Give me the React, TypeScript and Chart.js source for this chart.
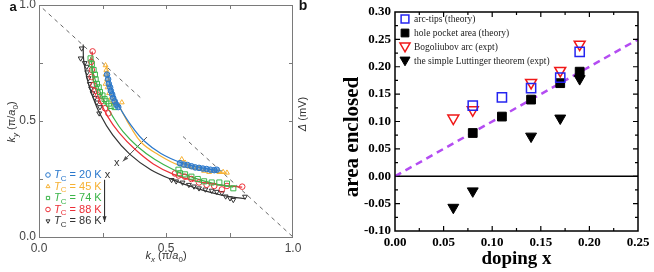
import React, { useEffect, useRef } from "react";
import { Chart, registerables } from "chart.js";
Chart.register(...registerables);

// ---------------- Panel a data (kx, ky in units of pi/a0) ----------------
const tc20Pts: [number, number][] = [
  [0.268, 0.70], [0.272, 0.68], [0.275, 0.66], [0.28, 0.645], [0.283, 0.63], [0.288, 0.615],
  [0.292, 0.60], [0.298, 0.585], [0.305, 0.57], [0.312, 0.56],
  [0.555, 0.318], [0.57, 0.312], [0.585, 0.31], [0.60, 0.305], [0.615, 0.30], [0.63, 0.298],
  [0.645, 0.295], [0.66, 0.293], [0.675, 0.29], [0.69, 0.288], [0.70, 0.29],
];
const tc45Pts: [number, number][] = [
  [0.262, 0.74], [0.265, 0.72], [0.262, 0.70], [0.268, 0.68], [0.262, 0.66], [0.27, 0.645],
  [0.276, 0.62], [0.285, 0.60], [0.292, 0.585], [0.30, 0.575], [0.326, 0.58],
  [0.562, 0.335], [0.575, 0.32], [0.59, 0.305], [0.61, 0.30], [0.63, 0.295], [0.65, 0.285],
  [0.67, 0.28], [0.69, 0.285], [0.71, 0.28], [0.725, 0.28], [0.74, 0.277],
];
const tc74Pts: [number, number][] = [
  [0.203, 0.77], [0.208, 0.745], [0.215, 0.72], [0.22, 0.70], [0.223, 0.68], [0.228, 0.66],
  [0.235, 0.645], [0.24, 0.625], [0.25, 0.61], [0.258, 0.595], [0.265, 0.585], [0.275, 0.575],
  [0.285, 0.565], [0.298, 0.56],
  [0.549, 0.29], [0.555, 0.275], [0.575, 0.27], [0.60, 0.26], [0.625, 0.25], [0.65, 0.24],
  [0.68, 0.235], [0.71, 0.235], [0.74, 0.23], [0.765, 0.21],
];
const tc88Pts: [number, number][] = [
  [0.211, 0.80], [0.206, 0.755], [0.208, 0.72], [0.207, 0.69], [0.214, 0.655], [0.222, 0.63],
  [0.232, 0.61], [0.245, 0.585], [0.26, 0.555], [0.273, 0.533],
  [0.535, 0.274], [0.55, 0.265], [0.575, 0.26], [0.60, 0.25], [0.63, 0.235], [0.66, 0.225],
  [0.69, 0.22], [0.72, 0.205], [0.74, 0.22], [0.80, 0.217],
];
const tc86Pts: [number, number][] = [
  [0.168, 0.813], [0.164, 0.77], [0.18, 0.75], [0.188, 0.734], [0.19, 0.71], [0.195, 0.685],
  [0.20, 0.66], [0.205, 0.64], [0.211, 0.62], [0.22, 0.60], [0.228, 0.58], [0.24, 0.56],
  [0.237, 0.533],
  [0.522, 0.246], [0.54, 0.24], [0.565, 0.235], [0.59, 0.225], [0.61, 0.218], [0.63, 0.21],
  [0.655, 0.205], [0.68, 0.20], [0.70, 0.195], [0.72, 0.19], [0.735, 0.175], [0.752, 0.167],
  [0.765, 0.16], [0.811, 0.174],
];

const tc20Fit: [number, number][] = [
  [0.27, 0.70], [0.285, 0.64], [0.305, 0.585], [0.33, 0.535], [0.37, 0.47], [0.414, 0.414],
  [0.48, 0.36], [0.56, 0.32], [0.63, 0.30], [0.70, 0.288], [0.72, 0.285],
];
const tc45Fit: [number, number][] = [
  [0.265, 0.74], [0.28, 0.66], [0.30, 0.60], [0.325, 0.545], [0.36, 0.475], [0.405, 0.405],
  [0.47, 0.355], [0.55, 0.31], [0.63, 0.29], [0.69, 0.28], [0.74, 0.275],
];
const tc74Fit: [number, number][] = [
  [0.203, 0.775], [0.215, 0.70], [0.235, 0.64], [0.26, 0.58], [0.29, 0.52], [0.33, 0.455],
  [0.389, 0.389], [0.455, 0.335], [0.53, 0.29], [0.61, 0.255], [0.69, 0.23], [0.765, 0.215],
];
const tc88Fit: [number, number][] = [
  [0.21, 0.80], [0.208, 0.74], [0.215, 0.67], [0.235, 0.60], [0.27, 0.52], [0.315, 0.45],
  [0.378, 0.378], [0.45, 0.315], [0.53, 0.27], [0.62, 0.24], [0.71, 0.225], [0.80, 0.215],
];
const tc86Fit: [number, number][] = [
  [0.174, 0.83], [0.176, 0.76], [0.19, 0.68], [0.21, 0.61], [0.24, 0.53], [0.29, 0.44],
  [0.357, 0.357], [0.44, 0.29], [0.53, 0.245], [0.62, 0.21], [0.72, 0.18], [0.81, 0.165],
];

const zoneLineUpper: [number, number][] = [[0.015, 0.985], [0.4, 0.6]];
const zoneLineLower: [number, number][] = [[0.567, 0.433], [1.0, 0.0]];
const dopingArrow: [number, number][] = [[0.425, 0.431], [0.33, 0.326]];
const legendArrow: [number, number][] = [[0.258, 0.246], [0.258, 0.065]];

const tcLabels = ["20 K", "45 K", "74 K", "88 K", "86 K"];
const tcColors = ["#2a78cc", "#f6b133", "#3cb54a", "#ec3038", "#333333"];
const tcFills = ["rgba(42,120,204,0.55)", "rgba(255,255,255,0)", "rgba(255,255,255,0)", "rgba(255,255,255,0)", "rgba(255,255,255,0)"];
const tcStyles = ["circle", "triangle", "rect", "circle", "triangleDown"];

// ---------------- Panel b data ----------------
const dopingTheory = [0.08, 0.11, 0.14, 0.17, 0.19];
const arcTips = [0.129, 0.144, 0.161, 0.180, 0.227];
const holePocket = [0.079, 0.109, 0.140, 0.170, 0.191];
const dopingExpt = [0.06, 0.08, 0.14, 0.17, 0.19];
const bogoliubovArc = [0.106, 0.121, 0.171, 0.193, 0.241];
const luttinger = [-0.057, -0.027, 0.073, 0.106, 0.178];
const guideLine: [number, number][] = [[0, 0], [0.25, 0.25]];
const zeroLine: [number, number][] = [[0, 0], [0.25, 0]];
const bLegend = [
  "arc-tips (theory)",
  "hole pocket area (theory)",
  "Bogoliubov arc (expt)",
  "the simple Luttinger theorem (expt)",
];

const SANS = "'Liberation Sans', Arial, sans-serif";
const SERIF = "'Liberation Serif', 'Times New Roman', serif";

type Part = { t: string; it?: boolean; sub?: boolean; bold?: boolean };

function drawParts(
  ctx: CanvasRenderingContext2D, parts: Part[], x: number, y: number,
  size: number, family: string, color: string, align: "left" | "center"
) {
  const fontFor = (p: Part) =>
    `${p.it ? "italic " : ""}${p.bold ? "bold " : ""}${p.sub ? Math.round(size * 0.72) : size}px ${family}`;
  let total = 0;
  for (const p of parts) { ctx.font = fontFor(p); total += ctx.measureText(p.t).width; }
  let cx = align === "center" ? x - total / 2 : x;
  ctx.fillStyle = color;
  ctx.textAlign = "left";
  ctx.textBaseline = "middle";
  for (const p of parts) {
    ctx.font = fontFor(p);
    ctx.fillText(p.t, cx, y + (p.sub ? size * 0.3 : 0));
    cx += ctx.measureText(p.t).width;
  }
}

function marker(ctx: CanvasRenderingContext2D, style: string, x: number, y: number, r: number,
  stroke: string, fill: string | null, lw: number) {
  ctx.beginPath();
  if (style === "circle") ctx.arc(x, y, r, 0, Math.PI * 2);
  else if (style === "rect") { const s = r * Math.SQRT1_2; ctx.rect(x - s, y - s, 2 * s, 2 * s); }
  else {
    const down = style === "triangleDown";
    const sgn = down ? -1 : 1;
    ctx.moveTo(x, y - sgn * r);
    ctx.lineTo(x + r * 0.866, y + sgn * r * 0.5);
    ctx.lineTo(x - r * 0.866, y + sgn * r * 0.5);
    ctx.closePath();
  }
  if (fill) { ctx.fillStyle = fill; ctx.fill(); }
  ctx.lineWidth = lw; ctx.strokeStyle = stroke; ctx.stroke();
}

function arrowHead(ctx: CanvasRenderingContext2D, x1: number, y1: number, x2: number, y2: number, len: number, color: string) {
  const a = Math.atan2(y2 - y1, x2 - x1);
  ctx.beginPath();
  ctx.moveTo(x2, y2);
  ctx.lineTo(x2 - len * Math.cos(a - 0.35), y2 - len * Math.sin(a - 0.35));
  ctx.lineTo(x2 - len * Math.cos(a + 0.35), y2 - len * Math.sin(a + 0.35));
  ctx.closePath();
  ctx.fillStyle = color; ctx.fill();
}

const toXY = (arr: [number, number][]) => arr.map(([x, y]) => ({ x, y }));

const panelAPlugin = {
  id: "panelA",
  afterDraw(chart: any) {
    const { ctx, chartArea: ca } = chart;
    const sx = chart.scales.x, sy = chart.scales.y;
    ctx.save();
    ctx.strokeStyle = "#7a7a7a"; ctx.lineWidth = 1;
    ctx.strokeRect(ca.left + 0.5, ca.top + 0.5, ca.right - ca.left - 1, ca.bottom - ca.top);
    ctx.beginPath();
    for (const v of [0.25, 0.5, 0.75]) {
      const px = Math.round(sx.getPixelForValue(v)) + 0.5;
      ctx.moveTo(px, ca.bottom); ctx.lineTo(px, ca.bottom - 4);
      ctx.moveTo(px, ca.top); ctx.lineTo(px, ca.top + 4);
      const py = Math.round(sy.getPixelForValue(v)) + 0.5;
      ctx.moveTo(ca.left, py); ctx.lineTo(ca.left + 4, py);
      ctx.moveTo(ca.right, py); ctx.lineTo(ca.right - 4, py);
    }
    ctx.stroke();

    const ax1 = sx.getPixelForValue(dopingArrow[0][0]), ay1 = sy.getPixelForValue(dopingArrow[0][1]);
    const ax2 = sx.getPixelForValue(dopingArrow[1][0]), ay2 = sy.getPixelForValue(dopingArrow[1][1]);
    arrowHead(ctx, ax1, ay1, ax2, ay2, 6, "#555");
    ctx.font = `11px ${SANS}`; ctx.fillStyle = "#333"; ctx.textAlign = "center"; ctx.textBaseline = "middle";
    ctx.fillText("x", ax2 - 6, ay2 + 2);

    const bx1 = sx.getPixelForValue(legendArrow[0][0]), by1 = sy.getPixelForValue(legendArrow[0][1]);
    const bx2 = sx.getPixelForValue(legendArrow[1][0]), by2 = sy.getPixelForValue(legendArrow[1][1]);
    arrowHead(ctx, bx1, by1, bx2, by2, 6, "#333");
    ctx.fillStyle = "#333";
    ctx.fillText("x", bx1 + 3, by1 - 5);

    const lx = ca.left + 9, ly0 = ca.top + 170;
    for (let i = 0; i < tcLabels.length; i++) {
      const yy = ly0 + i * 11.5;
      marker(ctx, tcStyles[i], lx, yy, 2.3, tcColors[i], null, 1);
      drawParts(ctx, [{ t: "T", it: true }, { t: "C", sub: true }, { t: " = " + tcLabels[i] }],
        lx + 6, yy, 11, SANS, tcColors[i], "left");
    }

    drawParts(ctx, [{ t: "k", it: true }, { t: "x", sub: true, it: true }, { t: " (π/" }, { t: "a", it: true }, { t: "0", sub: true }, { t: ")" }],
      (ca.left + ca.right) / 2, 256, 11, SANS, "#333", "center");
    ctx.save();
    ctx.translate(12, 122); ctx.rotate(-Math.PI / 2);
    drawParts(ctx, [{ t: "k", it: true }, { t: "y", sub: true, it: true }, { t: " (π/" }, { t: "a", it: true }, { t: "0", sub: true }, { t: ")" }],
      0, 0, 11, SANS, "#333", "center");
    ctx.restore();
    ctx.save();
    ctx.translate(ca.right + 10, 114); ctx.rotate(-Math.PI / 2);
    drawParts(ctx, [{ t: "Δ", it: true }, { t: " (mV)" }], 0, 0, 11, SANS, "#333", "center");
    ctx.restore();

    ctx.font = `bold 13px ${SANS}`; ctx.fillStyle = "#111"; ctx.textAlign = "center"; ctx.textBaseline = "middle";
    ctx.fillText("a", 13, 7);
    ctx.font = `bold 14px ${SANS}`;
    ctx.fillText("b", ca.right + 10, 6);
    ctx.restore();
  },
};

const panelBPlugin = {
  id: "panelB",
  afterDraw(chart: any) {
    const { ctx, chartArea: ca } = chart;
    const sx = chart.scales.x, sy = chart.scales.y;
    ctx.save();
    ctx.strokeStyle = "#000"; ctx.lineWidth = 1.5;
    ctx.strokeRect(ca.left, ca.top, ca.right - ca.left, ca.bottom - ca.top);
    ctx.lineWidth = 1.2;
    ctx.beginPath();
    for (let i = 1; i < 10; i++) {
      const v = i * 0.025;
      const len = i % 2 === 0 ? 5 : 3;
      const px = sx.getPixelForValue(v);
      ctx.moveTo(px, ca.bottom); ctx.lineTo(px, ca.bottom - len);
      ctx.moveTo(px, ca.top); ctx.lineTo(px, ca.top + len);
    }
    for (let i = 1; i < 16; i++) {
      const v = -0.1 + i * 0.025;
      const len = i % 2 === 0 ? 5 : 3;
      const py = sy.getPixelForValue(v);
      ctx.moveTo(ca.left, py); ctx.lineTo(ca.left + len, py);
      ctx.moveTo(ca.right, py); ctx.lineTo(ca.right - len, py);
    }
    ctx.stroke();

    const mx = ca.left + 10, tx = ca.left + 19;
    const rows = [ca.top + 7, ca.top + 21, ca.top + 35, ca.top + 49];
    marker(ctx, "rect", mx, rows[0], 5.5, "#2424f0", "#fff", 1.5);
    marker(ctx, "rect", mx, rows[1], 5.5, "#000", "#000", 1);
    marker(ctx, "triangleDown", mx, rows[2] - 1, 5.8, "#f01818", "#fff", 1.5);
    marker(ctx, "triangleDown", mx, rows[3] - 1, 5.8, "#000", "#000", 1);
    ctx.font = `9.5px ${SERIF}`; ctx.fillStyle = "#222"; ctx.textAlign = "left"; ctx.textBaseline = "middle";
    for (let i = 0; i < bLegend.length; i++) ctx.fillText(bLegend[i], tx, rows[i]);

    ctx.font = `bold 19px ${SERIF}`; ctx.fillStyle = "#000"; ctx.textAlign = "center"; ctx.textBaseline = "middle";
    ctx.fillText("doping x", (ca.left + ca.right) / 2, 259);
    ctx.save();
    ctx.translate(33, 137); ctx.rotate(-Math.PI / 2);
    ctx.font = `bold 21px ${SERIF}`;
    ctx.fillText("area enclosed", 0, 0);
    ctx.restore();
    ctx.restore();
  },
};

function makeA(canvas: HTMLCanvasElement) {
  const ptsSets = [tc20Pts, tc45Pts, tc74Pts, tc88Pts, tc86Pts];
  const fitSets = [tc20Fit, tc45Fit, tc74Fit, tc88Fit, tc86Fit];
  const pointDs = ptsSets.map((p, i) => ({
    label: tcLabels[i],
    data: toXY(p),
    showLine: false,
    pointStyle: tcStyles[i] === "triangleDown" ? "triangle" : tcStyles[i],
    pointRotation: tcStyles[i] === "triangleDown" ? 180 : 0,
    pointRadius: tcStyles[i] === "rect" ? 3.6 : 2.8,
    pointBorderWidth: 1,
    pointBorderColor: tcColors[i],
    pointBackgroundColor: tcFills[i],
  }));
  const fitDs = fitSets.map((p, i) => ({
    label: tcLabels[i] + " fit",
    data: toXY(p),
    showLine: true,
    pointRadius: 0,
    borderColor: tcColors[i],
    borderWidth: 1.2,
    tension: 0.4,
    fill: false,
  }));
  const extra = [
    { data: toXY(zoneLineUpper), showLine: true, pointRadius: 0, borderColor: "#666", borderWidth: 1, borderDash: [4, 4] },
    { data: toXY(zoneLineLower), showLine: true, pointRadius: 0, borderColor: "#666", borderWidth: 1, borderDash: [4, 4] },
    { data: toXY(dopingArrow), showLine: true, pointRadius: 0, borderColor: "#555", borderWidth: 1 },
    { data: toXY(legendArrow), showLine: true, pointRadius: 0, borderColor: "#333", borderWidth: 1 },
  ];
  return new Chart(canvas, {
    type: "scatter",
    data: { datasets: [...pointDs, ...fitDs, ...extra] as any },
    options: {
      responsive: false,
      animation: false,
      devicePixelRatio: 1,
      layout: { padding: { left: 0, right: 27, top: 5, bottom: 0 } },
      plugins: { legend: { display: false }, tooltip: { enabled: false } },
      scales: {
        x: {
          type: "linear", min: 0, max: 1,
          ticks: { stepSize: 0.5, autoSkip: false, maxRotation: 0, padding: 4, color: "#444",
            font: { family: SANS, size: 12 }, callback: (v: any) => Number(v).toFixed(1) },
          grid: { display: false, drawTicks: false },
          border: { display: false },
          afterFit: (s: any) => { s.height = 35; s.paddingLeft = 0; s.paddingRight = 0; },
        },
        y: {
          type: "linear", min: 0, max: 1,
          ticks: { stepSize: 0.5, autoSkip: false, padding: 3, color: "#444",
            font: { family: SANS, size: 12 }, callback: (v: any) => Number(v).toFixed(1) },
          grid: { display: false, drawTicks: false },
          border: { display: false },
          afterFit: (s: any) => { s.width = 39; s.paddingTop = 0; s.paddingBottom = 0; },
        },
      },
    } as any,
    plugins: [panelAPlugin],
  });
}

function makeB(canvas: HTMLCanvasElement) {
  const pair = (xs: number[], ys: number[]) => xs.map((x, i) => ({ x, y: ys[i] }));
  const datasets = [
    { label: bLegend[0], data: pair(dopingTheory, arcTips), pointStyle: "rect", pointRadius: 6.5,
      pointBorderWidth: 1.5, pointBorderColor: "#2424f0", pointBackgroundColor: "rgba(255,255,255,0)", showLine: false },
    { label: bLegend[2], data: pair(dopingExpt, bogoliubovArc), pointStyle: "triangle", pointRotation: 180, pointRadius: 6.3,
      pointBorderWidth: 1.5, pointBorderColor: "#f01818", pointBackgroundColor: "rgba(255,255,255,0)", showLine: false },
    { label: bLegend[1], data: pair(dopingTheory, holePocket), pointStyle: "rect", pointRadius: 6.2,
      pointBorderWidth: 1, pointBorderColor: "#000", pointBackgroundColor: "#000", showLine: false },
    { label: bLegend[3], data: pair(dopingExpt, luttinger), pointStyle: "triangle", pointRotation: 180, pointRadius: 6.3,
      pointBorderWidth: 1, pointBorderColor: "#000", pointBackgroundColor: "#000", showLine: false },
    { label: "x", data: toXY(guideLine), showLine: true, pointRadius: 0, borderColor: "#b44cf2",
      borderWidth: 2.5, borderDash: [7, 5] },
    { label: "zero", data: toXY(zeroLine), showLine: true, pointRadius: 0, borderColor: "#000", borderWidth: 1.5 },
  ];
  return new Chart(canvas, {
    type: "scatter",
    data: { datasets: datasets as any },
    options: {
      responsive: false,
      animation: false,
      devicePixelRatio: 1,
      layout: { padding: { left: 0, right: 16, top: 12, bottom: 0 } },
      plugins: { legend: { display: false }, tooltip: { enabled: false } },
      scales: {
        x: {
          type: "linear", min: 0, max: 0.25,
          ticks: { stepSize: 0.05, autoSkip: false, maxRotation: 0, padding: 4, color: "#000",
            font: { family: SERIF, size: 13, weight: "bold" },
            callback: (v: any) => (Math.abs(Number(v)) < 1e-9 ? "0.00" : Number(v).toFixed(2)) },
          grid: { display: false, drawTicks: false },
          border: { display: false },
          afterFit: (s: any) => { s.height = 41; s.paddingLeft = 0; s.paddingRight = 0; },
        },
        y: {
          type: "linear", min: -0.1, max: 0.3,
          ticks: { stepSize: 0.05, autoSkip: false, padding: 4, color: "#000",
            font: { family: SERIF, size: 13, weight: "bold" },
            callback: (v: any) => (Math.abs(Number(v)) < 1e-9 ? "0.00" : Number(v).toFixed(2)) },
          grid: { display: false, drawTicks: false },
          border: { display: false },
          afterFit: (s: any) => { s.width = 75; s.paddingTop = 0; s.paddingBottom = 0; },
        },
      },
    } as any,
    plugins: [panelBPlugin],
  });
}

export default function App() {
  const refA = useRef<HTMLCanvasElement>(null);
  const refB = useRef<HTMLCanvasElement>(null);
  useEffect(() => {
    const a = makeA(refA.current!);
    const b = makeB(refB.current!);
    return () => { a.destroy(); b.destroy(); };
  }, []);
  return (
    <div style={{ position: "absolute", left: 0, top: 0, width: 654, height: 272, background: "#fff" }}>
      <canvas ref={refA} width={320} height={272}
        style={{ position: "absolute", left: 0, top: 0, width: 320, height: 272 }} />
      <canvas ref={refB} width={334} height={272}
        style={{ position: "absolute", left: 320, top: 0, width: 334, height: 272 }} />
    </div>
  );
}
